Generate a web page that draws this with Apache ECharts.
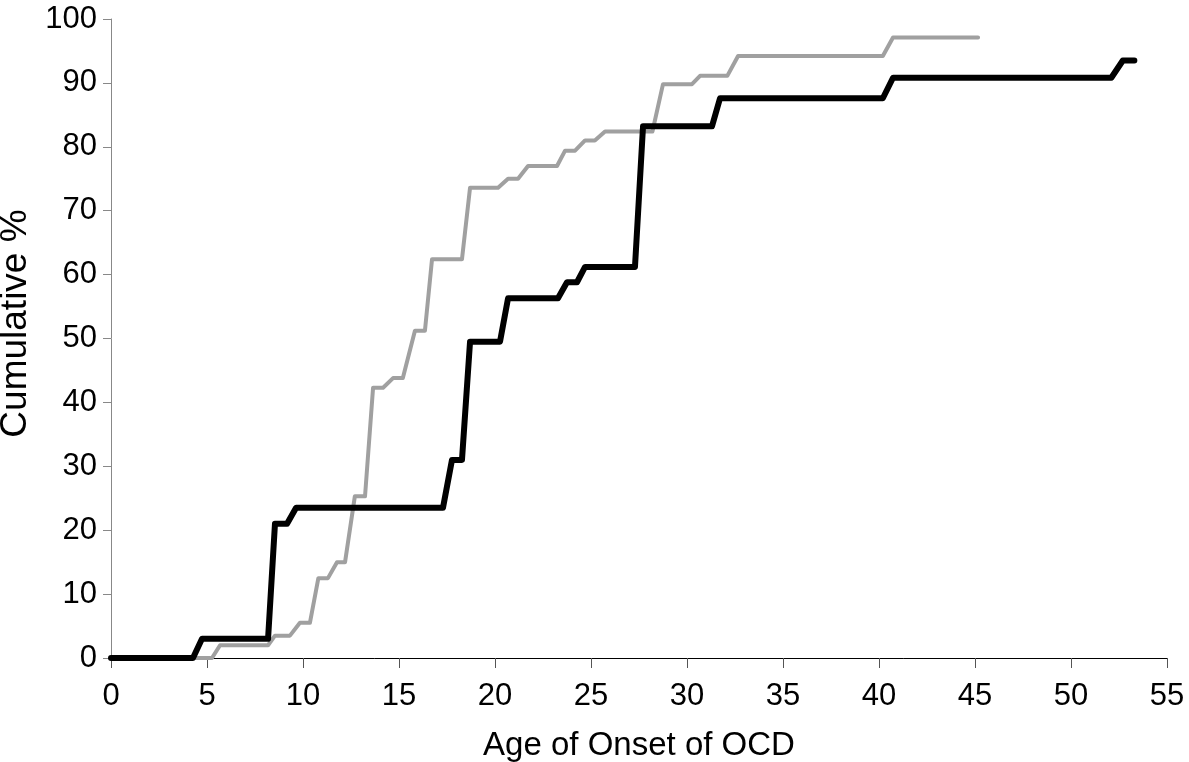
<!DOCTYPE html>
<html>
<head>
<meta charset="utf-8">
<script src="https://cdn.jsdelivr.net/npm/echarts@6/dist/echarts.min.js"></script>
<style>html,body{margin:0;padding:0;background:#fff;}#c{width:1189px;height:762px;}</style>
</head>
<body>
<div id="c"></div>
<script>
var xTicks = [0,5,10,15,20,25,30,35,40,45,50,55];
var yTicks = [0,10,20,30,40,50,60,70,80,90,100];
var blackAge = [0,4.27,4.74,8.18,8.54,9.17,9.64,17.29,17.76,18.28,18.7,20.26,20.68,23.28,23.75,24.27,24.69,27.29,27.71,31.3,31.72,40.2,40.73,52.1,52.7,53.3];
var blackPct = [0,0,3,3,21,21,23.5,23.5,31,31,49.5,49.5,56.3,56.3,58.8,58.8,61.2,61.2,83.2,83.2,87.6,87.6,90.8,90.8,93.5,93.5];
var grayAge = [0,5.26,5.68,8.18,8.54,9.32,9.84,10.36,10.8,11.3,11.77,12.19,12.7,13.23,13.65,14.17,14.69,15.2,15.83,16.35,16.72,18.28,18.7,20.16,20.68,21.2,21.72,23.23,23.65,24.17,24.69,25.2,25.73,28.2,28.75,30.26,30.68,32.1,32.66,40.2,40.73,45.16];
var grayPct = [0,0,2,2,3.5,3.5,5.5,5.5,12.5,12.5,15,15,25.3,25.3,42.3,42.3,43.8,43.8,51.2,51.2,62.4,62.4,73.6,73.6,75,75,77,77,79.4,79.4,81,81,82.4,82.4,89.8,89.8,91.1,91.1,94.2,94.2,97.1,97.1];
var xName = 'Age of Onset of OCD';
var yName = 'Cumulative %';

function pairs(a, b){ return a.map(function(v,i){ return [v, b[i]]; }); }

var font = '"Liberation Sans", Arial, Helvetica, sans-serif';
var chart = echarts.init(document.getElementById('c'), null, {renderer:'canvas'});
chart.setOption({
  animation: false,
  backgroundColor: '#fff',
  grid: {left: 111, right: 22, top: 19, bottom: 104, containLabel: false, outerBoundsMode: 'none'},
  xAxis: {
    type: 'value', min: 0, max: 55, interval: 5,
    name: xName, nameLocation: 'middle', nameGap: 71,
    nameTextStyle: {fontFamily: font, fontSize: 33, color: '#000'},
    axisLine: {show: true, onZero: false, lineStyle: {color: '#000', width: 1}},
    axisTick: {show: true, inside: false, length: 10, lineStyle: {color: '#555', width: 1}},
    axisLabel: {fontFamily: font, fontSize: 31, color: '#000', margin: 23},
    splitLine: {show: false}
  },
  yAxis: {
    type: 'value', min: 0, max: 100, interval: 10,
    name: yName, nameLocation: 'middle', nameGap: 72, nameRotate: 90,
    nameTextStyle: {fontFamily: font, fontSize: 37, color: '#000', padding: [0, 0, 0, 30]},
    axisLine: {show: true, lineStyle: {color: '#888', width: 1}},
    axisTick: {show: true, inside: false, length: 8, lineStyle: {color: '#888', width: 1}},
    axisLabel: {fontFamily: font, fontSize: 31, color: '#000', margin: 14},
    splitLine: {show: false}
  },
  series: [
    {type: 'line', data: pairs(grayAge, grayPct), showSymbol: false, symbol: 'none',
     lineStyle: {color: '#a0a0a0', width: 4, join: 'round', cap: 'round'}, z: 2},
    {type: 'line', data: pairs(blackAge, blackPct), showSymbol: false, symbol: 'none',
     lineStyle: {color: '#000', width: 6, join: 'round', cap: 'round'}, z: 3}
  ]
});
</script>
</body>
</html>
